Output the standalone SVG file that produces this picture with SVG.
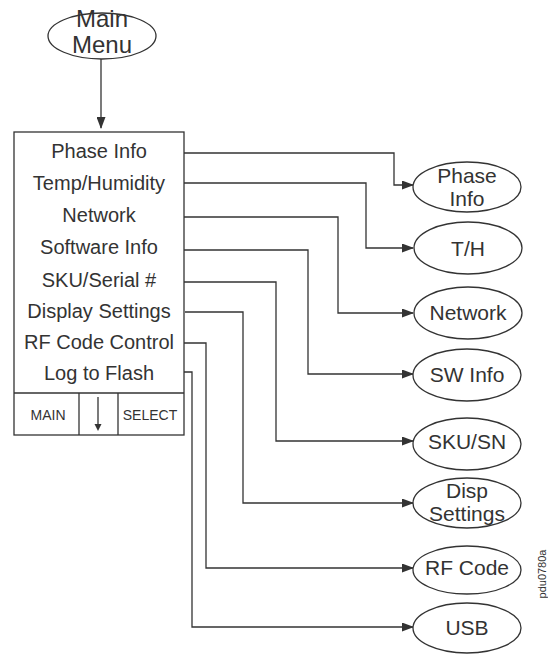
<svg xmlns="http://www.w3.org/2000/svg" width="548" height="654" viewBox="0 0 548 654">
<style>
.s{fill:none;stroke:#333;stroke-width:1.3}
.e{fill:#fff;stroke:#333;stroke-width:1.3}
text{font-family:"Liberation Sans",Arial,sans-serif;fill:#333;text-anchor:middle}
.h{font-size:24px}
.t{font-size:20px}
.m{font-size:21px}
.b{font-size:14px}
</style>
<defs>
<marker id="ah" markerWidth="12" markerHeight="9" refX="11" refY="4.5" orient="auto" markerUnits="userSpaceOnUse">
<path d="M0,0 L12,4.5 L0,9 Z" fill="#333"/>
</marker>
</defs>
<rect width="548" height="654" fill="#fff"/>
<g id="connectors">
<path class="s" d="M101,59 V128" marker-end="url(#ah)"/>
<path class="s" d="M184,153 H394 V185 H413" marker-end="url(#ah)"/>
<path class="s" d="M184,183 H366 V248 H413" marker-end="url(#ah)"/>
<path class="s" d="M184,217 H338 V313 H413" marker-end="url(#ah)"/>
<path class="s" d="M184,250 H308 V374 H413" marker-end="url(#ah)"/>
<path class="s" d="M184,282 H276 V441 H413" marker-end="url(#ah)"/>
<path class="s" d="M185,312 H243 V503 H413" marker-end="url(#ah)"/>
<path class="s" d="M184,343 H206 V568 H413" marker-end="url(#ah)"/>
<path class="s" d="M184,372 H192 V627 H413" marker-end="url(#ah)"/>
</g>
<g id="main-menu">
<ellipse class="e" cx="102" cy="36" rx="54" ry="23"/>
<text class="h" x="102" y="27">Main</text>
<text class="h" x="102" y="53">Menu</text>
</g>
<g id="menu-box">
<rect class="s" x="14" y="132" width="170" height="303"/>
<line class="s" x1="14" y1="393" x2="184" y2="393"/>
<line class="s" x1="79" y1="393" x2="79" y2="435"/>
<line class="s" x1="118" y1="393" x2="118" y2="435"/>
<path class="s" d="M98,397 V426"/>
<path d="M94.5,424 L98,431 L101.5,424 Z" fill="#333"/>
<text class="b" x="48" y="420">MAIN</text>
<text class="b" x="150" y="420">SELECT</text>
<text class="t" x="99" y="158">Phase Info</text>
<text class="t" x="99" y="190">Temp/Humidity</text>
<text class="t" x="99" y="222">Network</text>
<text class="t" x="99" y="254">Software Info</text>
<text class="t" x="99" y="287">SKU/Serial #</text>
<text class="t" x="99" y="318">Display Settings</text>
<text class="t" x="99" y="349">RF Code Control</text>
<text class="t" x="99" y="380">Log to Flash</text>
</g>
<g id="phase-info">
<ellipse class="e" cx="467" cy="187" rx="54" ry="25"/>
<text class="m" x="467" y="183">Phase</text>
<text class="m" x="467" y="206">Info</text>
</g>
<g id="th">
<ellipse class="e" cx="468" cy="248" rx="54" ry="26"/>
<text class="m" x="468" y="256">T/H</text>
</g>
<g id="network">
<ellipse class="e" cx="468" cy="313" rx="54" ry="26"/>
<text class="m" x="468" y="320">Network</text>
</g>
<g id="sw-info">
<ellipse class="e" cx="467" cy="375" rx="54" ry="26"/>
<text class="m" x="467" y="382">SW Info</text>
</g>
<g id="sku-sn">
<ellipse class="e" cx="467" cy="444" rx="54" ry="26"/>
<text class="m" x="467" y="449">SKU/SN</text>
</g>
<g id="disp-settings">
<ellipse class="e" cx="467" cy="503" rx="54" ry="25"/>
<text class="m" x="467" y="498">Disp</text>
<text class="m" x="467" y="521">Settings</text>
</g>
<g id="rf-code">
<ellipse class="e" cx="467" cy="570" rx="54" ry="24"/>
<text class="m" x="467" y="575">RF Code</text>
</g>
<g id="usb">
<ellipse class="e" cx="467" cy="628" rx="54" ry="25"/>
<text class="m" x="467" y="635">USB</text>
</g>
<text x="0" y="0" font-size="11" transform="translate(546,574) rotate(-90)">pdu0780a</text>
</svg>
